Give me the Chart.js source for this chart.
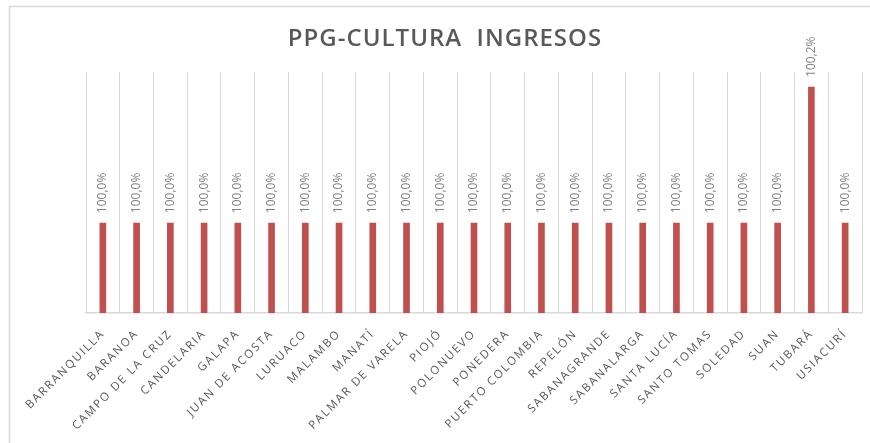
<!DOCTYPE html>
<html>
<head>
<meta charset="utf-8">
<title>PPG-CULTURA INGRESOS</title>
<script src="https://cdn.jsdelivr.net/npm/chart.js@4.4.1/dist/chart.umd.min.js"></script>
<style>
    html, body { margin: 0; padding: 0; background: #ffffff; }
    #wrap { width: 870px; height: 443px; position: relative; }
</style>
</head>
<body>
<div id="wrap"><canvas id="myChart" width="870" height="443"></canvas></div>
<script>
// Municipios
let municipios = [
    'BARRANQUILLA', 'BARANOA', 'CAMPO DE LA CRUZ', 'CANDELARIA', 'GALAPA',
    'JUAN DE ACOSTA', 'LURUACO', 'MALAMBO', 'MANATÍ', 'PALMAR DE VARELA',
    'PIOJÓ', 'POLONUEVO', 'PONEDERA', 'PUERTO COLOMBIA', 'REPELÓN',
    'SABANAGRANDE', 'SABANALARGA', 'SANTA LUCÍA', 'SANTO TOMAS', 'SOLEDAD',
    'SUAN', 'TUBARÁ', 'USIACURÍ'
];

// Porcentaje de ingresos (%)
let ingresos = [
    100.0, 100.0, 100.0, 100.0, 100.0,
    100.0, 100.0, 100.0, 100.0, 100.0,
    100.0, 100.0, 100.0, 100.0, 100.0,
    100.0, 100.0, 100.0, 100.0, 100.0,
    100.0, 100.2, 100.0
];

let titulo = 'PPG-CULTURA  INGRESOS';

function formatPct(v) {
    return v.toFixed(1).replace('.', ',') + '%';
}

// Frame + title, drawn by hand
const framePlugin = {
    id: 'frame',
    beforeDraw: function(chart) {
        const ctx = chart.ctx;
        ctx.save();
        ctx.strokeStyle = '#d9d9d9';
        ctx.lineWidth = 1.5;
        ctx.strokeRect(9.5, 6.5, 900, 500);
        ctx.fillStyle = '#595959';
        ctx.font = '600 24px "Open Sans"';
        ctx.letterSpacing = '1px';
        ctx.textAlign = 'center';
        ctx.textBaseline = 'middle';
        ctx.fillText(titulo, 445, 39);
        ctx.restore();
        // spaced-out axis labels
        ctx.letterSpacing = '1.8px';
    },
    afterDraw: function(chart) {
        chart.ctx.letterSpacing = '0px';
    }
};

// Value labels above the bars, rotated
const labelPlugin = {
    id: 'barLabels',
    afterDatasetsDraw: function(chart) {
        const ctx = chart.ctx;
        const meta = chart.getDatasetMeta(0);
        ctx.save();
        ctx.letterSpacing = '0px';
        ctx.fillStyle = '#7f7f7f';
        ctx.font = '12px "Open Sans"';
        ctx.textAlign = 'left';
        ctx.textBaseline = 'middle';
        meta.data.forEach(function(bar, i) {
            ctx.save();
            ctx.translate(bar.x, bar.y - 10);
            ctx.rotate(-Math.PI / 2);
            ctx.fillText(formatPct(ingresos[i]), 0, 0);
            ctx.restore();
        });
        ctx.restore();
    }
};

const ctx = document.getElementById('myChart').getContext('2d');
const myChart = new Chart(ctx, {
    type: 'bar',
    data: {
        labels: municipios,
        datasets: [{
            label: 'Ingresos',
            data: ingresos,
            backgroundColor: '#c0504d',
            borderWidth: 0,
            barThickness: 6
        }]
    },
    options: {
        responsive: false,
        animation: false,
        layout: {
            padding: { left: 86, right: 8, top: 72, bottom: 0 }
        },
        plugins: {
            legend: { display: false },
            title: { display: false },
            tooltip: { enabled: false }
        },
        scales: {
            x: {
                offset: true,
                grid: {
                    offset: true,
                    color: '#d9d9d9',
                    lineWidth: 1,
                    drawTicks: false
                },
                border: { color: '#d9d9d9', width: 1.5 },
                ticks: {
                    autoSkip: false,
                    minRotation: 45,
                    maxRotation: 45,
                    padding: 14,
                    color: '#595959',
                    font: { family: 'Open Sans', size: 11.5 }
                },
                afterFit: function(scale) {
                    scale.height = 130;
                }
            },
            y: {
                display: false,
                min: 99.868,
                max: 100.222
            }
        }
    },
    plugins: [framePlugin, labelPlugin]
});
</script>
</body>
</html>
